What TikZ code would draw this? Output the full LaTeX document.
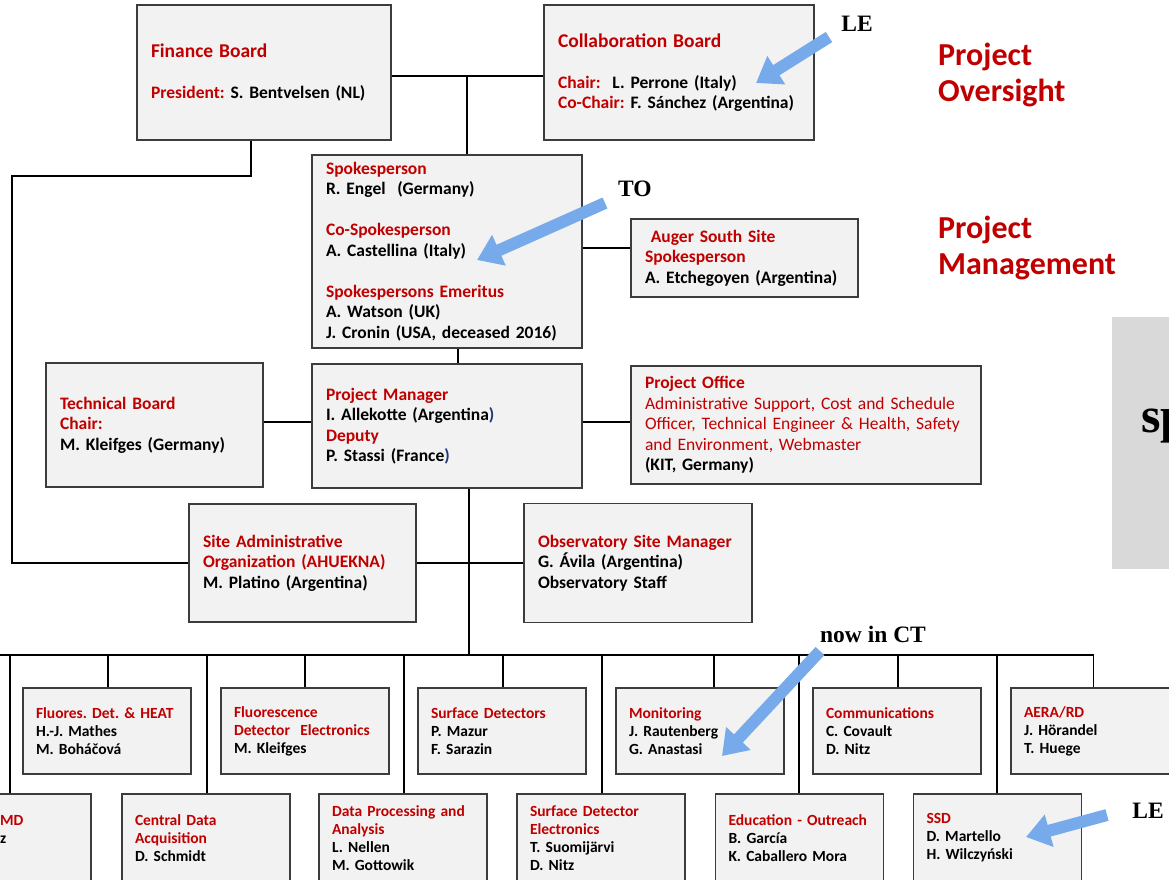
\documentclass[tikz,border=0pt]{standalone}
\usepackage{fontspec}
\setmainfont{Carlito}
\newfontfamily\timesfont{Liberation Serif}
\usetikzlibrary{arrows.meta, positioning}
\definecolor{augerred}{RGB}{192,0,0}
\definecolor{boxgray}{RGB}{242,242,242}
\definecolor{boxline}{RGB}{60,60,60}
\definecolor{sidegray}{RGB}{217,217,217}
\definecolor{hintblue}{RGB}{118,170,234}
\definecolor{parblue}{RGB}{31,56,120}
\newcommand{\rd}[1]{\textcolor{augerred}{#1}}
\newcommand{\bigrd}[1]{\textcolor{augerred}{\fontsize{19.5}{20.5}\selectfont #1}}

\begin{document}
\frenchspacing
\begin{tikzpicture}[
  x=1pt, y=-1pt,
  box/.style={draw=boxline, line width=1.3pt, fill=boxgray, align=left,
              inner xsep=14pt, inner ysep=0pt,
              font=\fontsize{17.5}{20.5}\selectfont\bfseries},
  unit/.style={box, text width=142pt, inner xsep=13pt, minimum height=86pt,
               font=\fontsize{15.5}{18}\selectfont\bfseries},
  conn/.style={line width=1.8pt, draw=black},
  hint/.style={draw=hintblue, line width=12pt,
               -{Triangle[width=32pt, length=24pt]}},
  note/.style={font=\timesfont\bfseries\fontsize{23.5}{26}\selectfont},
  level/.style={font=\fontsize{32}{36}\selectfont\bfseries,
                text=augerred, align=left, anchor=west, inner sep=0pt}
]
\useasboundingbox (0,0) rectangle (1169,879);
\clip (0,0) rectangle (1169,879);

% oversight
\node[box, text width=226pt, minimum height=135pt] (fin) at (264,72.5)
  {\bigrd{Finance Board}\\[20.5pt] \rd{President:} S. Bentvelsen (NL)};
\node[box, text width=242pt, minimum height=135pt] (collab) at (679,72.5)
  {\bigrd{Collaboration Board}\\[20.5pt] \rd{Chair:}\ \ L. Perrone (Italy)\\
   \rd{Co-Chair:} F. Sánchez (Argentina)};

% management
\node[box, text width=242pt, minimum height=193pt] (spokes) at (447,251.5)
  {\rd{Spokesperson}\\ R. Engel\ \ (Germany)\\[20.5pt]
   \rd{Co-Spokesperson}\\ A. Castellina (Italy)\\[20.5pt]
   \rd{Spokespersons Emeritus}\\ A. Watson (UK)\\ J. Cronin (USA, deceased 2016)};
\node[box, text width=199pt, minimum height=78pt] (auger) at (744.5,258)
  {\rd{\ Auger South Site}\\ \rd{Spokesperson}\\ A. Etchegoyen (Argentina)};
\node[box, text width=189pt, minimum height=124pt] (tech) at (154.5,425)
  {\rd{Technical Board}\\ \rd{Chair:}\\ M. Kleifges (Germany)};
\node[box, text width=242pt, minimum height=124pt] (pm) at (447,426)
  {\rd{Project Manager}\\ I. Allekotte (Argentina\textcolor{parblue}{)}\\
   \rd{Deputy}\\ P. Stassi (France\textcolor{parblue}{)}};
\node[box, text width=322pt, minimum height=118pt] (po) at (806,425)
  {\rd{Project Office}\\
   \rd{\mdseries Administrative Support, Cost and Schedule}\\
   \rd{\mdseries Officer, Technical Engineer \& Health, Safety}\\
   \rd{\mdseries and Environment, Webmaster}\\ (KIT, Germany)};
\node[box, text width=199pt, minimum height=118pt] (site) at (302.5,563)
  {\rd{Site Administrative}\\ \rd{Organization (AHUEKNA)}\\ M. Platino (Argentina)};
\node[box, text width=200pt, minimum height=119pt] (obs) at (638,563)
  {\rd{Observatory Site Manager}\\ G. Ávila (Argentina)\\ Observatory Staff};

% task groups, upper row
\node[unit] (t1) at (107,731) {\rd{Fluores. Det. \& HEAT}\\ H.-J. Mathes\\ M. Boháčová};
\node[unit] (t2) at (305,731) {\rd{Fluorescence}\\ \rd{Detector\ \ Electronics}\\ M. Kleifges};
\node[unit] (t3) at (502,731) {\rd{Surface Detectors}\\ P. Mazur\\ F. Sarazin};
\node[unit] (t4) at (700,731) {\rd{Monitoring}\\ J. Rautenberg\\ G. Anastasi};
\node[unit] (t5) at (897,731) {\rd{Communications}\\ C. Covault\\ D. Nitz};
\node[unit] (t6) at (1095,731) {\rd{AERA/RD}\\ J. Hörandel\\ T. Huege};

% task groups, lower row
\node[unit, minimum height=88pt] (b1) at (7,838) {};
\node[font=\fontsize{15.5}{18}\selectfont\bfseries, align=left, anchor=west,
      inner sep=0pt] (b1txt) at (0,829) {\rd{MD}\\ z};
\node[unit, minimum height=88pt] (b2) at (206,838) {\rd{Central Data}\\ \rd{Acquisition}\\ D. Schmidt};
\node[unit, minimum height=88pt] (b3) at (403,838) {\rd{Data Processing and}\\ \rd{Analysis}\\ L. Nellen\\ M. Gottowik};
\node[unit, minimum height=88pt] (b4) at (601,838) {\rd{Surface Detector}\\ \rd{Electronics}\\ T. Suomijärvi\\ D. Nitz};
\node[unit, minimum height=88pt] (b5) at (799.5,838) {\rd{Education - Outreach}\\ B. García\\ K. Caballero Mora};
\node[unit, minimum height=88pt] (b6) at (997.5,838) {\rd{SSD}\\ D. Martello\\ H. Wilczyński};

% side panel and headings
\node[fill=sidegray, inner sep=0pt, minimum width=90pt, minimum height=252pt,
      anchor=north west] (side) at (1112,317) {};
\node[font=\timesfont\bfseries\fontsize{50}{50}\selectfont, anchor=base west,
      inner sep=0pt] (sidetxt) at (1141,432) {sp};
\node[level] (oversight) at (938,75) {Project\\ Oversight};
\node[level] (mgmt) at (938,248) {Project\\ Management};

% connectors
\coordinate (obus) at (467,76);
\coordinate (fdrop) at (251,176);
\coordinate (lcorner) at (12,176);
\coordinate (sdrop) at (458,356);
\coordinate (alink) at (606,248);
\coordinate (tlink) at (288,422);
\coordinate (plink) at (606,422);
\coordinate (mdrop) at (469,655);
\coordinate (busl) at (-5,655);
\coordinate (busr) at (1093.5,655);

\draw[conn] (obus -| fin.east) -- (obus -| collab.west);
\draw[conn] (obus) -- (obus |- spokes.north);
\draw[conn] (fdrop |- fin.south) -- (fdrop) -- (lcorner) |- (site.west);
\draw[conn] (sdrop |- spokes.south) -- (sdrop |- pm.north);
\draw[conn] (alink -| spokes.east) -- (alink -| auger.west);
\draw[conn] (tlink -| tech.east) -- (tlink -| pm.west);
\draw[conn] (plink -| pm.east) -- (plink -| po.west);
\draw[conn] (site.east) -- (obs.west);
\draw[conn] (mdrop |- pm.south) -- (mdrop);
\draw[conn] (busl) -- (busr);
\foreach \n/\x in {t1/108, t2/305, t3/503, t4/714, t5/898, t6/1093.5}
  \draw[conn] (busl -| \x,0) -- (\n.north -| \x,0);
\foreach \n/\x in {b1/10, b2/207, b3/404, b4/602, b5/799, b6/997}
  \draw[conn] (busl -| \x,0) -- (\n.north -| \x,0);

% remarks
\node[note] (le1) at (857,24) {LE};
\node[note] (to) at (635,188.5) {TO};
\node[note] (ct) at (873,634) {now in CT};
\node[note] (le2) at (1148,811) {LE};
\coordinate (le1tail) at (829,37);
\coordinate (le1tip) at (756,83);
\coordinate (totail) at (605,203);
\coordinate (totip) at (477,260);
\coordinate (cttail) at (820,651);
\coordinate (cttip) at (722,756);
\coordinate (le2tail) at (1107,815);
\coordinate (le2tip) at (1026,837);
\draw[hint] (le1tail) -- (le1tip);
\draw[hint] (totail) -- (totip);
\draw[hint] (cttail) -- (cttip);
\draw[hint] (le2tail) -- (le2tip);
\end{tikzpicture}
\end{document}
